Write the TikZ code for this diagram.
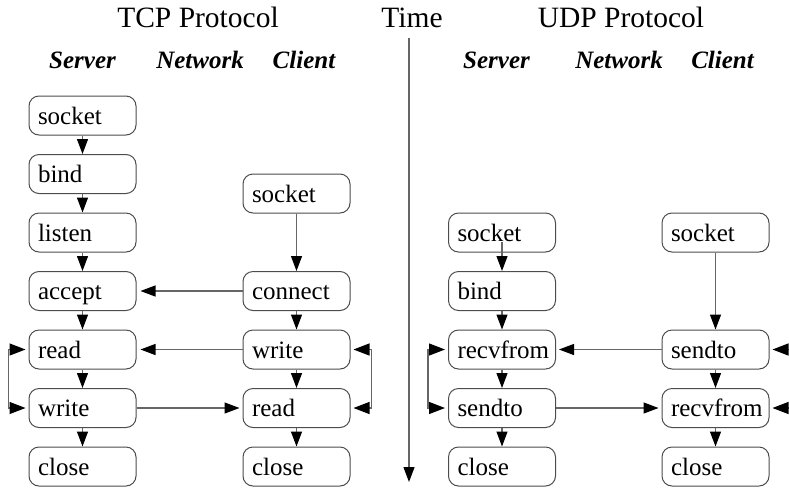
\documentclass[tikz,border=0pt]{standalone}
\usepackage{fontspec}
\setmainfont{Liberation Serif}
\usetikzlibrary{arrows.meta}
\tikzset{
  box/.style={draw=black!70, line width=1pt, rounded corners=10pt, minimum width=107pt, minimum height=39pt,
    text width=89pt, inner xsep=9pt, align=left, text height=17pt, text depth=0pt,
    font=\fontsize{25}{30}\selectfont},
  title/.style={anchor=base, font=\fontsize{29.5}{35}\selectfont, inner sep=0pt},
  head/.style={anchor=base, font=\fontsize{25}{30}\selectfont\bfseries\itshape, inner sep=0pt},
  arr/.style={draw=black!60, line width=1.2pt, -{Triangle[length=15pt,width=11pt,color=black]}},
  loop/.style={draw=black!60, line width=1.2pt, {Triangle[length=16pt,width=12pt,color=black]}-{Triangle[length=16pt,width=12pt,color=black]}},
}
\begin{document}
\begin{tikzpicture}[x=1pt,y=-1pt]
\useasboundingbox (0,0) rectangle (789,488);
% titles
\node[title] (tcp) at (198,27) {TCP Protocol};
\node[title] (time) at (412,27) {Time};
\node[title] (udp) at (621,27) {UDP Protocol};
\node[head] (h1) at (82.5,68) {Server};
\node[head] (h2) at (200,68) {Network};
\node[head] (h3) at (304,68) {Client};
\node[head] (h4) at (496.5,68) {Server};
\node[head] (h5) at (619,68) {Network};
\node[head] (h6) at (722.5,68) {Client};
% TCP server
\node[box] (ts1) at (82.5,115.5) {socket};
\node[box] (ts2) at (82.5,174) {bind};
\node[box] (ts3) at (82.5,232.5) {listen};
\node[box] (ts4) at (82.5,291) {accept};
\node[box] (ts5) at (82.5,349.5) {read};
\node[box] (ts6) at (82.5,408) {write};
\node[box] (ts7) at (82.5,466.5) {close};
% TCP client
\node[box] (tc1) at (296.5,193.5) {socket};
\node[box] (tc2) at (296.5,291) {connect};
\node[box] (tc3) at (296.5,349.5) {write};
\node[box] (tc4) at (296.5,408) {read};
\node[box] (tc5) at (296.5,466.5) {close};
% UDP server
\node[box] (us1) at (502,232.5) {socket};
\node[box] (us2) at (502,291) {bind};
\node[box] (us3) at (502,349.5) {recvfrom};
\node[box] (us4) at (502,408) {sendto};
\node[box] (us5) at (502,466.5) {close};
% UDP client
\node[box] (uc1) at (715.5,232.5) {socket};
\node[box] (uc2) at (715.5,349.5) {sendto};
\node[box] (uc3) at (715.5,408) {recvfrom};
\node[box] (uc4) at (715.5,466.5) {close};
% time axis
\coordinate (ttop) at (409,38);
\coordinate (tbot) at (409,482);
\draw[arr] (ttop) -- (tbot);
% TCP arrows
\draw[arr] (ts1) -- (ts2);
\draw[arr] (ts2) -- (ts3);
\draw[arr] (ts3) -- (ts4);
\draw[arr] (ts4) -- (ts5);
\draw[arr] (ts5) -- (ts6);
\draw[arr] (ts6) -- (ts7);
\draw[arr] (tc1) -- (tc2);
\draw[arr] (tc2) -- (tc3);
\draw[arr] (tc3) -- (tc4);
\draw[arr] (tc4) -- (tc5);
\draw[arr] (tc2.west) -- ([xshift=4pt]ts4.east);
\draw[arr] (tc3.west) -- ([xshift=4pt]ts5.east);
\draw[arr] (ts6.east) -- ([xshift=-3pt]tc4.west);
\draw[loop] ([xshift=-3pt]ts5.west) -- ++(-17,0) |- ([xshift=-3pt]ts6.west);
\draw[loop] ([xshift=3pt]tc3.east) -- ++(18,0) |- ([xshift=3pt]tc4.east);
% UDP arrows
\draw[arr] ([yshift=-9.5pt]us1.center) -- (us2);
\draw[arr] (us2) -- (us3);
\draw[arr] (us3) -- (us4);
\draw[arr] (us4) -- (us5);
\draw[arr] (uc1) -- (uc2);
\draw[arr] (uc2) -- (uc3);
\draw[arr] (uc3) -- (uc4);
\draw[arr] (uc2.west) -- ([xshift=3pt]us3.east);
\draw[arr] (us4.east) -- ([xshift=-3pt]uc3.west);
\draw[loop] ([xshift=-3pt]us3.west) -- ++(-17,0) |- ([xshift=-3pt]us4.west);
\draw[loop] ([xshift=3pt]uc2.east) -- ++(18,0) |- ([xshift=3pt]uc3.east);
\end{tikzpicture}
\end{document}
